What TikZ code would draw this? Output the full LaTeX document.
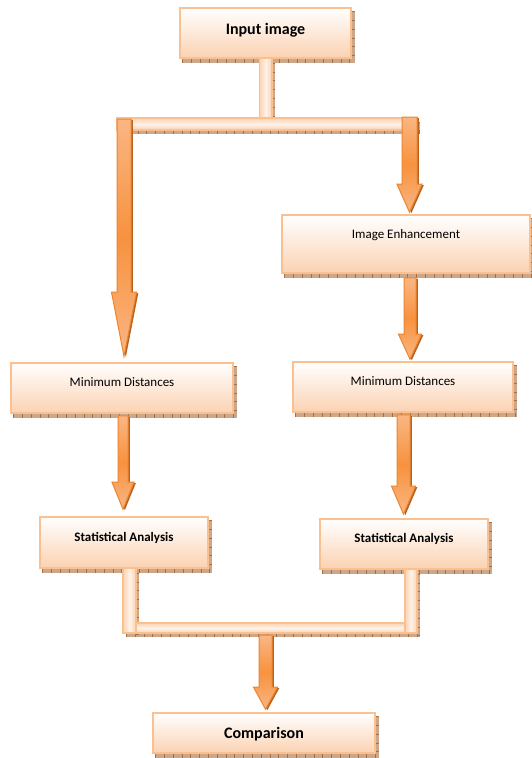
\documentclass[tikz,border=0pt]{standalone}
\usepackage{fontspec}
\setmainfont{Carlito}
\usetikzlibrary{calc,backgrounds}
\definecolor{bord}{HTML}{FAC08F}
\definecolor{peach}{HTML}{FBD2B2}
\definecolor{barmid}{HTML}{FFF2E8}
\definecolor{shad}{HTML}{CCA78A}
\definecolor{shadtick}{HTML}{A0704A}
\definecolor{aro}{HTML}{F7923F}
\definecolor{arol}{HTML}{FAB683}
\definecolor{arodark}{HTML}{EC8530}
\definecolor{aroshadow}{HTML}{B8621E}
\newcommand\bigb{\fontsize{16}{19}\selectfont\bfseries}
\newcommand\midb{\fontsize{13}{15}\selectfont\bfseries}
\newcommand\midr{\fontsize{13}{15}\selectfont}
\tikzset{
  box/.style={draw=bord, line width=1.6pt, top color=white, bottom color=peach, inner sep=0pt, text=black},
  hbar/.style={draw=bord, line width=1.2pt, top color=peach, bottom color=peach, middle color=barmid},
  vbar/.style={draw=bord, line width=1.2pt, left color=peach, right color=peach, middle color=barmid},
  arrowbody/.style={draw=arodark, line width=1pt, top color=arol, bottom color=arol, middle color=aro},
  ticks/.style={shadtick, line width=3.5pt, dash pattern=on 0.8pt off 8pt},
}
% shadow of a rectangle given by south-west and north-east corners
\newcommand\shadowof[2]{%
  \path (#1) coordinate (shA) (#2) coordinate (shB);
  \fill[shad] ([shift={(3pt,-4pt)}]shA) rectangle ([shift={(3pt,-4pt)}]shB);
  \draw[ticks] ($(shA)+(3pt,-2pt)$) -- ($(shA -| shB)+(3pt,-2pt)$);
  \draw[ticks] ($(shB)+(1.5pt,-4pt)$) -- ($(shA -| shB)+(1.5pt,-4pt)$);
}
% block arrow: start, end node, shaft half width, head half width, head length, gap
\newcommand\blockarrow[6]{%
  \fill[aroshadow] let \p1=(#1), \p2=(#2) in
   (\x1-#3+1.8pt,\y1-1pt) -- (\x1-#3+1.8pt,\y2+#6+#5-1pt) -- (\x1-#4+1.8pt,\y2+#6+#5-1pt)
   -- (\x1+1.8pt,\y2+#6-1pt) -- (\x1+#4+1.8pt,\y2+#6+#5-1pt) -- (\x1+#3+1.8pt,\y2+#6+#5-1pt)
   -- (\x1+#3+1.8pt,\y1-1pt) -- cycle;
  \path[arrowbody] let \p1=(#1), \p2=(#2) in
   (\x1-#3,\y1) -- (\x1-#3,\y2+#6+#5) -- (\x1-#4,\y2+#6+#5)
   -- (\x1,\y2+#6) -- (\x1+#4,\y2+#6+#5) -- (\x1+#3,\y2+#6+#5)
   -- (\x1+#3,\y1) -- cycle;
}
\begin{document}
\begin{tikzpicture}[x=1pt,y=-1pt]
\useasboundingbox (0,0) rectangle (531,758);

% boxes
\node[box, font=\bigb, minimum width=171pt, minimum height=50pt, text height=10.1pt, text depth=7pt] (in) at (265.5,33) {Input image};
\node[box, font=\midr, minimum width=248pt, minimum height=58pt, text height=8.2pt, text depth=20pt] (enh) at (406,244) {Image Enhancement};
\node[box, font=\midr, minimum width=222pt, minimum height=50pt, text height=8.2pt, text depth=11pt] (md1) at (122,388) {Minimum Distances};
\node[box, font=\midr, minimum width=220pt, minimum height=50pt, text height=8.2pt, text depth=11pt] (md2) at (403,387) {Minimum Distances};
\node[box, font=\midb, minimum width=168pt, minimum height=51pt, text height=8.2pt, text depth=11pt] (sa1) at (124,542.5) {Statistical Analysis};
\node[box, font=\midb, minimum width=168pt, minimum height=50pt, text height=8.2pt, text depth=11pt] (sa2) at (404,544) {Statistical Analysis};
\node[box, font=\bigb, minimum width=222pt, minimum height=40pt, text height=10.1pt, text depth=0pt] (cmp) at (264,733) {Comparison};

% junctions
\coordinate (jT) at (266,124);
\coordinate (jL) at (124,124);
\coordinate (jR) at (409.5,124);
\coordinate (jBL) at (129.5,628);
\coordinate (jBR) at (411,628);
\coordinate (jB) at (265.5,628);

% shadows
\begin{scope}[on background layer]
  \foreach \n in {in,enh,md1,md2,sa1,sa2,cmp} {\shadowof{\n.south west}{\n.north east}}
  \shadowof{[shift={(-6pt,-60pt)}]in.south}{[xshift=6pt]in.south}
  \shadowof{[shift={(-7pt,-6pt)}]jL}{[shift={(7.5pt,6pt)}]jR}
  \shadowof{[shift={(-6.5pt,-5pt)}]jBL}{[shift={(6pt,5pt)}]jBR}
  \shadowof{[shift={(-6.5pt,-5pt)}]jBL}{[xshift=12pt]sa1.south}
  \shadowof{[shift={(-6pt,-5pt)}]jBR}{[xshift=13pt]sa2.south}
\end{scope}

% top connector
\path[vbar] ([xshift=-6pt]in.south) rectangle ([shift={(6pt,6pt)}]jT);
\path[hbar] ([shift={(-7pt,6pt)}]jL) rectangle ([shift={(7.5pt,-6pt)}]jR);

% arrows
\blockarrow{[yshift=5pt]jL}{md1.north}{7pt}{12.5pt}{64pt}{6pt}
\blockarrow{[yshift=7pt]jR}{enh.north}{7.5pt}{12.5pt}{28pt}{2pt}
\blockarrow{[shift={(4pt,-4pt)}]enh.south}{md2.north}{6pt}{11.5pt}{25pt}{2pt}
\blockarrow{[shift={(1pt,-2pt)}]md1.south}{sa1.north}{5pt}{11pt}{27pt}{7pt}
\blockarrow{[shift={(0.5pt,-2pt)}]md2.south}{sa2.north}{6.5pt}{12pt}{28pt}{4pt}

% bottom connector
\path[hbar] ([shift={(-6.5pt,5pt)}]jBL) rectangle ([shift={(6pt,-5pt)}]jBR);
\path[vbar] ([xshift=-1pt]sa1.south) rectangle ([shift={(6.5pt,-5pt)}]jBL);
\path[vbar] ([xshift=1pt]sa2.south) rectangle ([shift={(6pt,-5pt)}]jBR);

\blockarrow{[yshift=-7pt]jB}{cmp.north}{6.5pt}{12pt}{22pt}{3pt}
\end{tikzpicture}
\end{document}
